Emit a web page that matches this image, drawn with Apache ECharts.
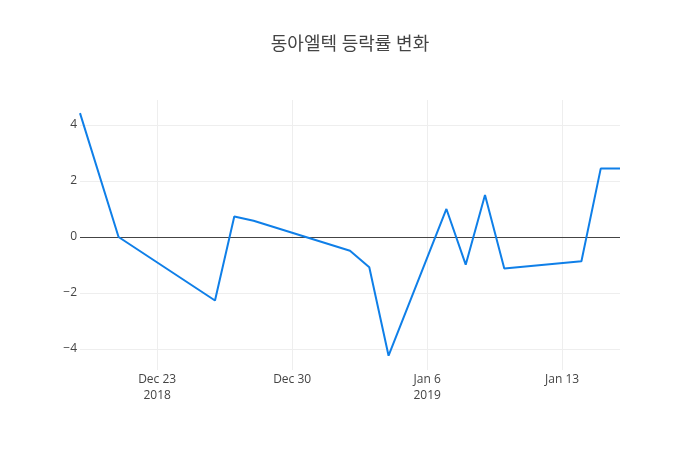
<!DOCTYPE html>
<html>
<head>
<meta charset="utf-8">
<script src="https://cdn.jsdelivr.net/npm/echarts@6/dist/echarts.min.js"></script>
<style>
  html, body { margin: 0; padding: 0; background: #fff; }
  #chart { width: 700px; height: 450px; }
</style>
</head>
<body>
<div id="chart"></div>
<script>
// 날짜 (y, m, d) 와 등락률
const dates = [
  [2018, 12, 19], [2018, 12, 21], [2018, 12, 26], [2018, 12, 27], [2018, 12, 28],
  [2019, 1, 2], [2019, 1, 3], [2019, 1, 4], [2019, 1, 7], [2019, 1, 8],
  [2019, 1, 9], [2019, 1, 10], [2019, 1, 14], [2019, 1, 15], [2019, 1, 16]
]
const rates = [4.42, 0, -2.27, 0.73, 0.58, -0.49, -1.08, -4.24, 1.0, -0.99, 1.5, -1.13, -0.87, 2.44, 2.44]

const xTicks = [[2018, 12, 23], [2018, 12, 30], [2019, 1, 6], [2019, 1, 13]]
const xTickLabels = ['Dec 23\n2018', 'Dec 30', 'Jan 6\n2019', 'Jan 13']
const yTicks = [-4, -2, 0, 2, 4]

// 날짜 -> 일 단위 숫자 (UTC 기준)
const toDay = d => Date.UTC(d[0], d[1] - 1, d[2]) / 86400000
const xTickDays = xTicks.map(toDay)

const chart = echarts.init(document.getElementById('chart'))

const option = {
  animation: false,
  backgroundColor: '#fff',
  title: {
    text: '동아엘텍 등락률 변화',
    left: 'center',
    top: 31,
    textStyle: {
      fontFamily: '"Open Sans", "Noto Sans CJK KR", sans-serif',
      fontSize: 18,
      fontWeight: 'normal',
      color: '#444'
    }
  },
  grid: {
    left: 80,
    right: 80,
    top: 100,
    bottom: 80
  },
  xAxis: {
    type: 'value',
    min: toDay(dates[0]),
    max: toDay(dates[dates.length - 1]),
    axisLine: { show: false },
    axisTick: { show: false, customValues: xTickDays },
    axisLabel: {
      customValues: xTickDays,
      color: '#444',
      fontSize: 12,
      fontFamily: '"Open Sans", sans-serif',
      lineHeight: 16,
      margin: 2,
      formatter: (value) => {
        const i = xTickDays.indexOf(value)
        return i >= 0 ? xTickLabels[i] : ''
      }
    },
    splitLine: { show: true, lineStyle: { color: '#eee', width: 1 } }
  },
  yAxis: {
    type: 'value',
    min: -4.75,
    max: 4.89,
    axisLine: { show: false },
    axisTick: { show: false, customValues: yTicks },
    axisLabel: {
      customValues: yTicks,
      color: '#444',
      fontSize: 12,
      fontFamily: '"Open Sans", sans-serif',
      margin: 3,
      formatter: v => (v < 0 ? '\u2212' + Math.abs(v) : String(v))
    },
    splitLine: { show: true, lineStyle: { color: '#eee', width: 1 } }
  },
  series: [
    {
      type: 'line',
      data: dates.map((d, i) => [toDay(d), rates[i]]),
      symbol: 'none',
      lineStyle: { color: '#0f7fe8', width: 2 },
      itemStyle: { color: '#0f7fe8' },
      z: 3,
      markLine: {
        silent: true,
        symbol: 'none',
        label: { show: false },
        lineStyle: { color: '#444', width: 1, type: 'solid' },
        data: [{ yAxis: 0 }],
        z: 2
      }
    }
  ]
}

chart.setOption(option)
</script>
</body>
</html>
